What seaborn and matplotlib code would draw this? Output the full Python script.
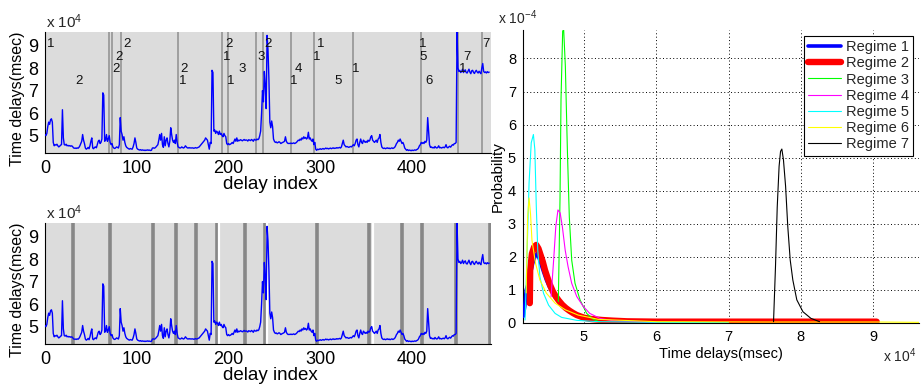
import numpy as np
import pandas as pd
import matplotlib
matplotlib.use("Agg")
import matplotlib.pyplot as plt
from matplotlib.ticker import FuncFormatter
import seaborn as sns

# ---------------- data ----------------
# time delay per delay index, in thousands of msec
delay_k = [
    50.5, 50.0, 51.0, 54.0, 56.0, 55.0, 57.0, 57.5, 56.0, 47.0, 45.5, 46.0, 45.8, 46.2, 45.5, 45.0, 45.3, 45.8, 46.0, 61.5,
    49.0, 46.0, 45.8, 46.2, 45.5, 45.7, 45.4, 45.6, 45.3, 45.5, 45.2, 44.6, 44.4, 44.5, 44.3, 44.6, 44.4, 44.8, 45.5, 46.5,
    47.5, 50.5, 48.0, 46.5, 44.5, 44.0, 44.3, 44.8, 44.2, 45.5, 47.5, 49.0, 44.5, 44.2, 44.8, 45.0, 44.6, 46.0, 47.5, 48.0,
    46.5, 47.0, 48.5, 69.0, 68.0, 47.5, 48.0, 50.5, 47.5, 48.5, 50.0, 47.0, 46.0, 46.5, 45.0, 44.5, 44.3, 44.6, 45.0, 44.8,
    44.5, 46.0, 58.0, 52.0, 50.5, 48.0, 49.5, 47.0, 45.5, 44.8, 44.5, 44.2, 44.0, 44.3, 44.1, 44.0, 45.0, 46.5, 49.0, 47.0,
    44.5, 44.0, 43.8, 43.6, 43.8, 43.5, 43.7, 43.5, 43.6, 43.4, 43.6, 43.5, 43.7, 43.5, 43.6, 43.4, 43.5, 44.5, 44.6, 44.4,
    44.6, 45.0, 45.5, 46.0, 48.0, 50.5, 48.0, 51.0, 46.0, 44.8, 49.5, 45.5, 48.0, 49.0, 46.5, 45.0, 47.5, 53.5, 50.5, 48.0,
    47.0, 48.0, 46.5, 50.5, 47.0, 45.0, 44.8, 44.5, 44.6, 45.0, 44.7, 44.5, 44.8, 45.5, 45.0, 44.6, 44.5, 44.7, 44.5, 44.6,
    44.5, 44.6, 44.4, 44.5, 44.7, 44.5, 44.6, 44.8, 45.0, 45.5, 46.0, 46.5, 47.0, 47.5, 48.0, 49.0, 48.5, 48.0, 46.0, 44.0,
    47.0, 46.5, 79.0, 78.0, 52.0, 52.5, 51.0, 52.0, 51.5, 50.5, 52.0, 50.5, 51.0, 50.0, 49.5, 51.0, 50.0, 49.5, 46.5, 46.0,
    46.5, 46.0, 46.2, 46.5, 47.0, 46.5, 47.5, 48.5, 47.5, 49.0, 47.5, 48.0, 47.8, 48.2, 48.0, 47.7, 48.0, 48.3, 47.9, 48.1,
    48.0, 47.6, 48.2, 48.0, 47.8, 48.3, 48.0, 47.5, 48.4, 48.1, 48.0, 48.5, 48.2, 48.6, 50.0, 52.0, 60.0, 70.0, 65.0, 78.5,
    72.0, 62.0, 94.5, 88.0, 75.0, 56.0, 53.5, 56.5, 54.0, 48.5, 47.5, 47.0, 47.2, 46.8, 47.0, 47.3, 47.0, 46.5, 46.8, 47.0,
    47.2, 47.5, 49.5, 47.5, 46.8, 46.5, 46.6, 46.5, 46.7, 46.5, 46.6, 46.8, 46.5, 46.7, 47.0, 47.5, 48.0, 47.8, 48.5, 48.0,
    49.0, 48.5, 49.5, 48.8, 49.2, 48.5, 49.0, 51.5, 48.5, 49.0, 48.0, 47.5, 48.5, 46.0, 47.0, 44.0, 43.5, 44.0, 43.8, 44.0,
    44.2, 43.9, 44.1, 44.3, 44.0, 44.2, 44.5, 44.2, 44.4, 44.1, 44.3, 44.5, 44.2, 44.4, 44.6, 44.3, 44.5, 44.4, 44.7, 44.5,
    44.6, 44.8, 44.5, 45.0, 46.5, 48.0, 46.0, 45.5, 45.0, 45.2, 45.0, 44.8, 45.0, 45.2, 45.0, 45.5, 46.0, 45.5, 46.5, 48.0,
    48.5, 46.0, 45.0, 47.0, 48.5, 47.0, 46.5, 48.0, 47.5, 47.0, 47.5, 47.0, 48.0, 47.5, 48.0, 49.5, 50.0, 48.0, 47.5, 47.0,
    47.5, 48.0, 47.0, 48.5, 49.0, 50.5, 47.0, 45.0, 44.5, 44.3, 44.5, 44.2, 44.4, 44.6, 44.3, 44.5, 44.2, 44.4, 44.6, 44.3,
    44.5, 44.8, 45.5, 46.5, 47.0, 48.0, 47.5, 48.5, 47.5, 46.5, 47.0, 46.0, 44.5, 44.0, 43.5, 43.8, 43.4, 43.6, 43.5, 43.3,
    43.6, 43.4, 43.5, 43.7, 43.5, 43.8, 44.0, 44.5, 45.5, 46.0, 47.0, 46.5, 47.0, 46.5, 47.5, 47.0, 48.0, 58.0, 52.0, 46.0,
    44.8, 45.0, 44.6, 44.8, 44.5, 45.2, 44.7, 44.5, 44.8, 45.5, 44.6, 44.8, 44.5, 44.7, 44.9, 44.6, 45.0, 46.0, 44.8, 44.6,
    45.0, 45.3, 44.9, 45.5, 46.0, 45.8, 46.5, 46.5, 47.0, 96.0, 80.0, 78.5, 79.0, 78.0, 78.5, 79.5, 78.0, 78.8, 79.2, 78.0,
    77.8, 78.6, 79.5, 78.2, 77.5, 78.8, 79.0, 78.0, 77.6, 78.5, 79.0, 78.2, 77.8, 78.6, 78.0, 77.5, 80.0, 82.0, 78.5, 78.0,
    78.3, 77.8, 78.4, 78.0, 78.2,
]

# regime change points (delay index)
top_changes = [69.6, 73, 83, 145, 193, 199, 230, 238, 268, 293.5, 336, 410, 450, 476]
bottom_changes = [31, 70.7, 117.7, 142.4, 164, 187.3, 217.4, 240, 296, 353, 389.5, 411, 448, 485]
bottom_gaps = [190, 242.4, 357.6]

# regime labels written on the upper panel
label_idx = [6, 37, 77, 81, 89.5, 152, 150, 200, 197.5, 202.5, 215, 235.5, 243,
             276, 270.5, 300, 296, 319.5, 339, 412, 411.6, 418.5, 460, 454.7, 481]
label_lvl = [90.8, 74.4, 79.8, 84.8, 90.8, 79.8, 74.4, 90.8, 84.8, 74.4, 79.8, 84.8, 90.8,
             79.8, 74.4, 90.8, 84.8, 74.4, 79.8, 90.8, 84.8, 74.4, 84.8, 79.8, 90.8]
label_txt = ["1", "2", "2", "2", "2", "2", "1", "2", "1", "1", "3", "3", "2",
             "4", "1", "1", "1", "5", "1", "1", "5", "6", "7", "1", "7"]

# per-regime delay distributions: delay in thousands of msec, probability in 1e-4
regime_names = ["Regime 1", "Regime 2", "Regime 3", "Regime 4", "Regime 5", "Regime 6", "Regime 7"]
r1_x = [41.6, 41.8, 42.0, 42.3, 42.6, 42.9, 43.2, 43.5, 43.8, 44.1, 44.4, 44.8, 45.2, 45.7, 46.2, 46.8,
        47.5, 48.2, 49.0, 50.0, 51.5, 53.0, 55.0, 60.0, 70.0, 80.0, 90.5]
r1_p = [0.2, 0.5, 1.0, 1.2, 1.5, 1.8, 2.0, 2.1, 1.95, 1.75, 1.55, 1.3, 1.1, 0.9, 0.75, 0.6,
        0.45, 0.35, 0.26, 0.18, 0.12, 0.08, 0.05, 0.03, 0.02, 0.02, 0.02]
r2_x = [42.5, 42.55, 42.8, 43.1, 43.4, 43.7, 44.0, 44.3, 44.6, 44.9, 45.3, 45.7, 46.1, 46.5, 47.0,
        47.5, 48.0, 48.5, 49.0, 50.0, 51.0, 52.5, 54.0, 56.0, 60.0, 70.0, 80.0, 90.5]
r2_p = [0.6, 1.6, 2.1, 2.3, 2.36, 2.25, 2.05, 1.85, 1.6, 1.4, 1.15, 0.95, 0.8, 0.68, 0.55,
        0.45, 0.37, 0.3, 0.24, 0.16, 0.12, 0.09, 0.07, 0.05, 0.04, 0.04, 0.04, 0.04]
r3_x = [46.45, 46.68, 46.82, 47.05, 47.19, 47.42, 47.7, 47.97, 48.3, 48.76, 49.45, 50.37, 51.3, 52.2]
r3_p = [0.65, 3.73, 6.76, 8.83, 8.86, 7.77, 5.24, 3.2, 1.9, 1.2, 0.7, 0.29, 0.11, 0.03]
r4_x = [45.44, 45.8, 46.1, 46.4, 46.7, 47.0, 47.4, 47.8, 48.3, 49.0, 49.9, 50.8, 52.2, 54.0, 60.0]
r4_p = [0.79, 1.9, 2.92, 3.42, 3.33, 2.92, 2.2, 1.7, 1.2, 0.8, 0.5, 0.29, 0.14, 0.07, 0.02]
r5_x = [41.84, 42.0, 42.2, 42.4, 42.7, 43.0, 43.2, 43.4, 43.6, 43.9, 44.4, 45.1, 46.0, 46.9,
        49.0, 52.0, 60.0, 70.0]
r5_p = [0.09, 1.2, 2.7, 4.24, 5.45, 5.7, 5.24, 3.52, 2.21, 1.4, 0.9, 0.54, 0.29, 0.17,
        0.08, 0.04, 0.02, 0.01]
r6_x = [42.0, 42.2, 42.4, 42.6, 42.8, 43.3, 43.9, 44.8, 46.0, 47.4, 49.2, 52.0, 60.0, 75.0, 90.5, 96.4]
r6_p = [0.91, 3.2, 3.78, 3.3, 2.5, 1.8, 1.3, 0.9, 0.6, 0.4, 0.24, 0.11, 0.04, 0.03, 0.03, 0.02]
r7_x = [76.23, 76.5, 76.74, 77.0, 77.2, 77.38, 77.6, 77.9, 78.2, 78.54, 78.9, 79.45, 80.3, 81.4, 82.6]
r7_p = [0.04, 1.7, 3.5, 4.74, 5.19, 5.26, 4.94, 4.13, 2.92, 1.9, 1.3, 0.7, 0.34, 0.14, 0.04]

regime_x = [r1_x, r2_x, r3_x, r4_x, r5_x, r6_x, r7_x]
regime_p = [r1_p, r2_p, r3_p, r4_p, r5_p, r6_p, r7_p]
regime_colors = ["#0000ff", "#ff0000", "#00ff00", "#ff00ff", "#00ffff", "#ffff00", "#000000"]
regime_widths = [2.6, 4.6, 0.8, 0.8, 0.8, 0.8, 0.8]

# ---------------- style ----------------
sns.set_theme(style="white")
plt.rcParams["font.family"] = ["Liberation Sans", "DejaVu Sans"]
plt.rcParams["mathtext.default"] = "regular"

W, H = 921, 384
fig = plt.figure(figsize=(W / 100, H / 100), dpi=100)


def px_box(l, t, r, b):
    return [l / W, 1 - b / H, (r - l) / W, (b - t) / H]


series = pd.DataFrame({"index": np.arange(len(delay_k)),
                       "delay": np.array(delay_k) * 1000.0})
e4 = FuncFormatter(lambda v, p: f"{v / 1e4:g}")

ax_top = fig.add_axes(px_box(45, 32, 491, 153))
ax_bot = fig.add_axes(px_box(45, 223, 491, 344))

for ax in (ax_top, ax_bot):
    ax.set_facecolor("#dcdcdc")

for xc in top_changes:
    ax_top.axvline(xc, color="#8f8f8f", lw=1.1, zorder=1)
for xc in bottom_changes:
    ax_bot.axvline(xc, color="#878787", lw=2.6, zorder=1)
for xc in bottom_gaps:
    ax_bot.axvline(xc, color="white", lw=1.6, zorder=1)

for ax in (ax_top, ax_bot):
    sns.lineplot(data=series, x="index", y="delay", ax=ax, color="#0000ff", lw=1.0, zorder=3)
    ax.set_xlim(0, 486)
    ax.set_ylim(42300, 96000)
    ax.set_xticks([0, 100, 200, 300, 400])
    ax.set_yticks([50000, 60000, 70000, 80000, 90000])
    ax.yaxis.set_major_formatter(e4)
    ax.tick_params(axis="both", length=0, labelsize=13, colors="black", pad=5)
    for s in ("top", "right"):
        ax.spines[s].set_visible(False)
    for s in ("left", "bottom"):
        ax.spines[s].set_color("black")
        ax.spines[s].set_linewidth(0.8)
    ax.set_xlabel("delay index", fontsize=13.5, color="black")
    ax.set_ylabel("Time delays(msec)", fontsize=11.5, color="black")
    ax.xaxis.set_label_coords(0.505, -0.19)
    ax.yaxis.set_label_coords(-0.045, 0.45)

for xi, lv, t in zip(label_idx, label_lvl, label_txt):
    ax_top.text(xi, lv * 1000, t, ha="center", va="center", fontsize=9.5, color="#111111", zorder=4)

fig.text(46 / W, 1 - 28 / H, "x 10$^{4}$", fontsize=11, ha="left", va="baseline")
fig.text(46 / W, 1 - 219 / H, "x 10$^{4}$", fontsize=11, ha="left", va="baseline")

# ---------------- distributions ----------------
ax_r = fig.add_axes(px_box(523, 30, 919, 323))
frames = []
for name, xs, ps in zip(regime_names, regime_x, regime_p):
    frames.append(pd.DataFrame({"regime": name,
                                "delay": np.array(xs) * 1000.0,
                                "prob": np.array(ps) * 1e-4}))
dist = pd.concat(frames, ignore_index=True)

for name, col, lw in zip(regime_names, regime_colors, regime_widths):
    sub = dist[dist["regime"] == name]
    sns.lineplot(data=sub, x="delay", y="prob", ax=ax_r, color=col, lw=lw,
                 label=name, zorder=3)

ax_r.set_xlim(41560, 96360)
ax_r.set_ylim(0, dist["prob"].max())
ax_r.set_xticks([50000, 60000, 70000, 80000, 90000])
ax_r.set_yticks([i * 1e-4 for i in range(9)])
ax_r.xaxis.set_major_formatter(e4)
ax_r.yaxis.set_major_formatter(FuncFormatter(lambda v, p: f"{v / 1e-4:.0f}"))
ax_r.grid(True, color="black", linestyle=(0, (1, 2.5)), lw=0.7)
ax_r.tick_params(axis="both", length=0, labelsize=10.5, colors="black", pad=5)
for s in ("top", "right"):
    ax_r.spines[s].set_visible(False)
for s in ("left", "bottom"):
    ax_r.spines[s].set_color("black")
    ax_r.spines[s].set_linewidth(0.8)
ax_r.set_xlabel("Time delays(msec)", fontsize=10.5, color="black", labelpad=2)
ax_r.set_ylabel("Probability", fontsize=11, color="black", labelpad=2)

leg = ax_r.legend(loc="upper right", fontsize=10.5, frameon=True, fancybox=False,
                  edgecolor="black", framealpha=1, labelspacing=0.15, handlelength=2.3,
                  handletextpad=0.3, borderpad=0.3, borderaxespad=0.4)
leg.get_frame().set_linewidth(0.8)

fig.text(498 / W, 1 - 24 / H, "x 10$^{-4}$", fontsize=10, ha="left", va="baseline")
fig.text(883 / W, 1 - 362 / H, "x 10$^{4}$", fontsize=10, ha="left", va="baseline")

fig.savefig("out.png", dpi=100)
